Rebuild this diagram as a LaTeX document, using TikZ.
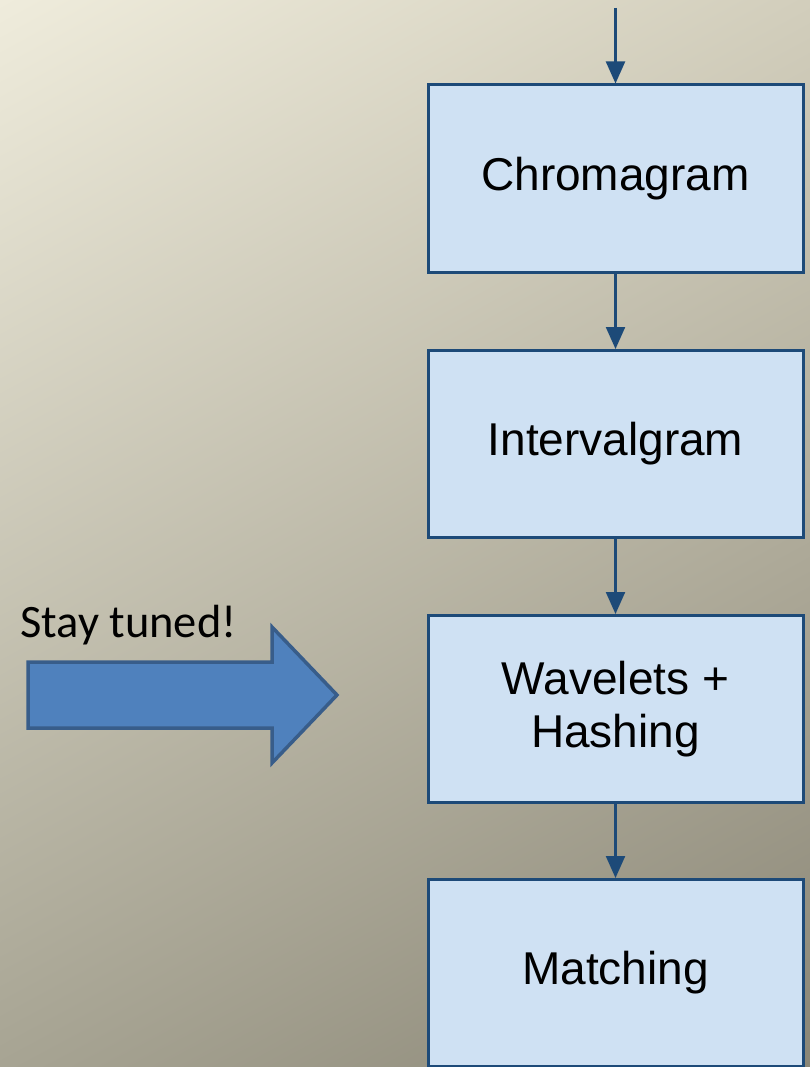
\documentclass[tikz,border=0pt]{standalone}
\usepackage{fontspec}
\setmainfont{Liberation Sans}
\newfontfamily\calibri{Carlito}
\usetikzlibrary{arrows.meta,shadings}

\definecolor{bgul}{HTML}{EFECDC}
\definecolor{bgur}{HTML}{D2CEBC}
\definecolor{bgll}{HTML}{A7A493}
\definecolor{bglr}{HTML}{8A8676}
\definecolor{boxfill}{HTML}{CFE1F3}
\definecolor{boxline}{HTML}{1D4A78}
\definecolor{bigfill}{HTML}{4F81BD}
\definecolor{bigline}{HTML}{385D8A}

\tikzset{
  stage/.style={draw=boxline, fill=boxfill, line width=3pt,
    minimum width=375pt, minimum height=187pt, inner sep=0pt,
    align=center, font=\fontsize{46}{53}\selectfont, text=black},
  conn/.style={draw=boxline, line width=2.2pt,
    -{Triangle[width=19pt,length=22pt]}},
  bigarrow/.style={fill=bigfill, draw=bigline, line width=3.5pt, line join=miter}
}

\begin{document}
\begin{tikzpicture}[x=1pt, y=-1pt]
  % page frame and backdrop: light top-left, darker towards the bottom and the right
  \clip (0,0) rectangle (810,1067);
  \shade[upper left=bgul, upper right=bgur, lower left=bgll, lower right=bglr]
    (0,0) rectangle (810,1067);

  % processing chain
  \node[stage] (chroma) at (615.5,178.5) {Chromagram};
  \node[stage] (interval) at (615.5,444) {Intervalgram};
  \node[stage] (wave) at (615.5,709) {Wavelets +\\Hashing};
  \node[stage] (match) at (615.5,973) {Matching};

  \coordinate (input) at (615.5,8);
  \draw[conn] (input) -- (chroma.north);
  \draw[conn] (chroma.south) -- (interval.north);
  \draw[conn] (interval.south) -- (wave.north);
  \draw[conn] (wave.south) -- (match.north);

  % pointer to the hashing stage
  \draw[bigarrow] (28,662) -- (272,662) -- (272,627) -- (337,695)
    -- (272,763) -- (272,728) -- (28,728) -- cycle;
  \node[anchor=base west, inner sep=0pt, font=\calibri\fontsize{46.5}{50}\selectfont]
    (tuned) at (20,637) {Stay tuned!};
\end{tikzpicture}
\end{document}
